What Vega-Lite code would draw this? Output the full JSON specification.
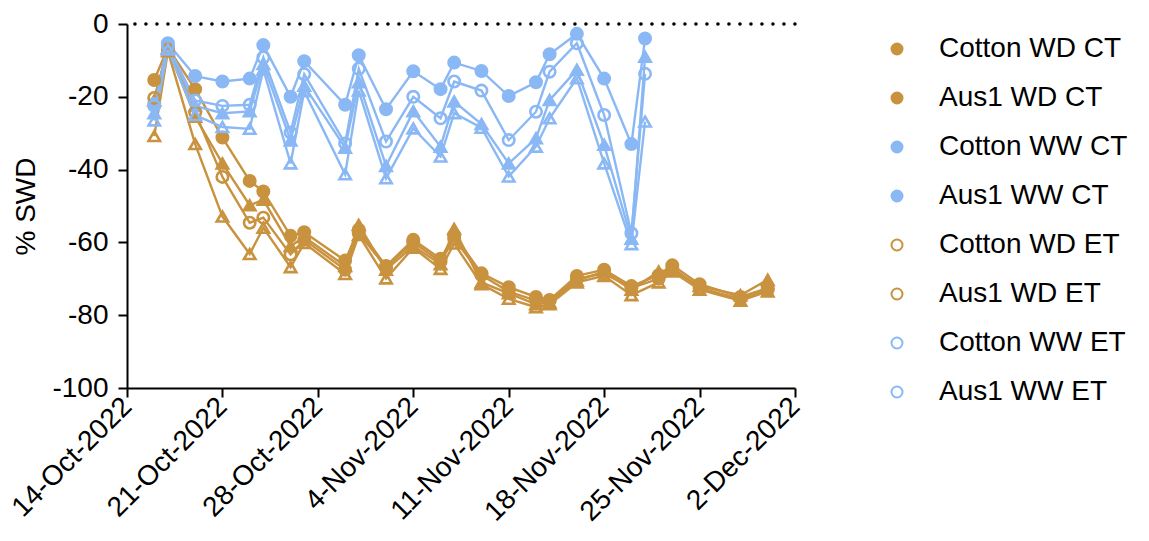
{
  "$schema": "https://vega.github.io/schema/vega-lite/v6.json",
  "width": 668,
  "height": 364,
  "autosize": {"type": "none"},
  "padding": {"left": 127, "top": 24, "right": 354, "bottom": 153},
  "background": "white",
  "config": {
    "view": {"stroke": null},
    "font": "Liberation Sans",
    "axis": {
      "grid": false,
      "domainColor": "#000",
      "domainWidth": 2,
      "tickColor": "#000",
      "tickWidth": 2,
      "tickSize": 9,
      "labelColor": "#000",
      "labelFont": "Liberation Sans",
      "labelFontSize": 27,
      "titleColor": "#000",
      "titleFont": "Liberation Sans",
      "titleFontSize": 28,
      "titleFontWeight": "normal"
    },
    "legend": {
      "orient": "none",
      "legendX": 756,
      "legendY": 11,
      "title": null,
      "padding": 0,
      "labelFont": "Liberation Sans",
      "labelFontSize": 28,
      "labelColor": "#000",
      "labelOffset": 28,
      "labelLimit": 0,
      "symbolSize": 121,
      "symbolStrokeWidth": 2,
      "rowPadding": 21
    }
  },
  "datasets": {
    "swd": [
      {"series": "Cotton WD CT", "date": "2022-10-16", "swd": -15.4},
      {"series": "Cotton WD CT", "date": "2022-10-17", "swd": -6.5},
      {"series": "Cotton WD CT", "date": "2022-10-19", "swd": -17.9},
      {"series": "Cotton WD CT", "date": "2022-10-21", "swd": -31.2},
      {"series": "Cotton WD CT", "date": "2022-10-23", "swd": -43.1},
      {"series": "Cotton WD CT", "date": "2022-10-24", "swd": -46},
      {"series": "Cotton WD CT", "date": "2022-10-26", "swd": -58.2},
      {"series": "Cotton WD CT", "date": "2022-10-27", "swd": -57.2},
      {"series": "Cotton WD CT", "date": "2022-10-30", "swd": -65},
      {"series": "Cotton WD CT", "date": "2022-10-31", "swd": -56.5},
      {"series": "Cotton WD CT", "date": "2022-11-02", "swd": -66.5},
      {"series": "Cotton WD CT", "date": "2022-11-04", "swd": -59.3},
      {"series": "Cotton WD CT", "date": "2022-11-06", "swd": -64.5},
      {"series": "Cotton WD CT", "date": "2022-11-07", "swd": -58},
      {"series": "Cotton WD CT", "date": "2022-11-09", "swd": -68.5},
      {"series": "Cotton WD CT", "date": "2022-11-11", "swd": -72.3},
      {"series": "Cotton WD CT", "date": "2022-11-13", "swd": -75},
      {"series": "Cotton WD CT", "date": "2022-11-14", "swd": -75.8},
      {"series": "Cotton WD CT", "date": "2022-11-16", "swd": -69.2},
      {"series": "Cotton WD CT", "date": "2022-11-18", "swd": -67.5},
      {"series": "Cotton WD CT", "date": "2022-11-20", "swd": -72},
      {"series": "Cotton WD CT", "date": "2022-11-22", "swd": -69},
      {"series": "Cotton WD CT", "date": "2022-11-23", "swd": -66.3},
      {"series": "Cotton WD CT", "date": "2022-11-25", "swd": -71.5},
      {"series": "Cotton WD CT", "date": "2022-11-28", "swd": -75},
      {"series": "Cotton WD CT", "date": "2022-11-30", "swd": -72.5},

      {"series": "Aus1 WD CT", "date": "2022-10-16", "swd": -21},
      {"series": "Aus1 WD CT", "date": "2022-10-17", "swd": -6.7},
      {"series": "Aus1 WD CT", "date": "2022-10-19", "swd": -25.5},
      {"series": "Aus1 WD CT", "date": "2022-10-21", "swd": -38.3},
      {"series": "Aus1 WD CT", "date": "2022-10-23", "swd": -49.8},
      {"series": "Aus1 WD CT", "date": "2022-10-24", "swd": -48.3},
      {"series": "Aus1 WD CT", "date": "2022-10-26", "swd": -61},
      {"series": "Aus1 WD CT", "date": "2022-10-27", "swd": -58.5},
      {"series": "Aus1 WD CT", "date": "2022-10-30", "swd": -66.5},
      {"series": "Aus1 WD CT", "date": "2022-10-31", "swd": -55.2},
      {"series": "Aus1 WD CT", "date": "2022-11-02", "swd": -67.5},
      {"series": "Aus1 WD CT", "date": "2022-11-04", "swd": -61},
      {"series": "Aus1 WD CT", "date": "2022-11-06", "swd": -66},
      {"series": "Aus1 WD CT", "date": "2022-11-07", "swd": -56.3},
      {"series": "Aus1 WD CT", "date": "2022-11-09", "swd": -71},
      {"series": "Aus1 WD CT", "date": "2022-11-11", "swd": -74},
      {"series": "Aus1 WD CT", "date": "2022-11-13", "swd": -77},
      {"series": "Aus1 WD CT", "date": "2022-11-14", "swd": -76.5},
      {"series": "Aus1 WD CT", "date": "2022-11-16", "swd": -70.5},
      {"series": "Aus1 WD CT", "date": "2022-11-18", "swd": -68},
      {"series": "Aus1 WD CT", "date": "2022-11-20", "swd": -73},
      {"series": "Aus1 WD CT", "date": "2022-11-22", "swd": -68},
      {"series": "Aus1 WD CT", "date": "2022-11-23", "swd": -67.5},
      {"series": "Aus1 WD CT", "date": "2022-11-25", "swd": -72},
      {"series": "Aus1 WD CT", "date": "2022-11-28", "swd": -74.5},
      {"series": "Aus1 WD CT", "date": "2022-11-30", "swd": -70.3},

      {"series": "Cotton WW CT", "date": "2022-10-16", "swd": -22},
      {"series": "Cotton WW CT", "date": "2022-10-17", "swd": -5.3},
      {"series": "Cotton WW CT", "date": "2022-10-19", "swd": -14.3},
      {"series": "Cotton WW CT", "date": "2022-10-21", "swd": -15.8},
      {"series": "Cotton WW CT", "date": "2022-10-23", "swd": -15},
      {"series": "Cotton WW CT", "date": "2022-10-24", "swd": -5.8},
      {"series": "Cotton WW CT", "date": "2022-10-26", "swd": -20},
      {"series": "Cotton WW CT", "date": "2022-10-27", "swd": -10.2},
      {"series": "Cotton WW CT", "date": "2022-10-30", "swd": -22.2},
      {"series": "Cotton WW CT", "date": "2022-10-31", "swd": -8.6},
      {"series": "Cotton WW CT", "date": "2022-11-02", "swd": -23.4},
      {"series": "Cotton WW CT", "date": "2022-11-04", "swd": -13},
      {"series": "Cotton WW CT", "date": "2022-11-06", "swd": -17.9},
      {"series": "Cotton WW CT", "date": "2022-11-07", "swd": -10.6},
      {"series": "Cotton WW CT", "date": "2022-11-09", "swd": -12.9},
      {"series": "Cotton WW CT", "date": "2022-11-11", "swd": -19.8},
      {"series": "Cotton WW CT", "date": "2022-11-13", "swd": -16},
      {"series": "Cotton WW CT", "date": "2022-11-14", "swd": -8.3},
      {"series": "Cotton WW CT", "date": "2022-11-16", "swd": -2.7},
      {"series": "Cotton WW CT", "date": "2022-11-18", "swd": -15},
      {"series": "Cotton WW CT", "date": "2022-11-20", "swd": -33},
      {"series": "Cotton WW CT", "date": "2022-11-21", "swd": -4},

      {"series": "Aus1 WW CT", "date": "2022-10-16", "swd": -24.5},
      {"series": "Aus1 WW CT", "date": "2022-10-17", "swd": -6.5},
      {"series": "Aus1 WW CT", "date": "2022-10-19", "swd": -22.5},
      {"series": "Aus1 WW CT", "date": "2022-10-21", "swd": -24.5},
      {"series": "Aus1 WW CT", "date": "2022-10-23", "swd": -24},
      {"series": "Aus1 WW CT", "date": "2022-10-24", "swd": -11},
      {"series": "Aus1 WW CT", "date": "2022-10-26", "swd": -32},
      {"series": "Aus1 WW CT", "date": "2022-10-27", "swd": -17},
      {"series": "Aus1 WW CT", "date": "2022-10-30", "swd": -34},
      {"series": "Aus1 WW CT", "date": "2022-10-31", "swd": -16},
      {"series": "Aus1 WW CT", "date": "2022-11-02", "swd": -39},
      {"series": "Aus1 WW CT", "date": "2022-11-04", "swd": -24},
      {"series": "Aus1 WW CT", "date": "2022-11-06", "swd": -33.7},
      {"series": "Aus1 WW CT", "date": "2022-11-07", "swd": -21.3},
      {"series": "Aus1 WW CT", "date": "2022-11-09", "swd": -27.5},
      {"series": "Aus1 WW CT", "date": "2022-11-11", "swd": -38.3},
      {"series": "Aus1 WW CT", "date": "2022-11-13", "swd": -31.4},
      {"series": "Aus1 WW CT", "date": "2022-11-14", "swd": -20.9},
      {"series": "Aus1 WW CT", "date": "2022-11-16", "swd": -12.6},
      {"series": "Aus1 WW CT", "date": "2022-11-18", "swd": -33.2},
      {"series": "Aus1 WW CT", "date": "2022-11-20", "swd": -59},
      {"series": "Aus1 WW CT", "date": "2022-11-21", "swd": -9},

      {"series": "Cotton WD ET", "date": "2022-10-16", "swd": -20.3},
      {"series": "Cotton WD ET", "date": "2022-10-17", "swd": -7},
      {"series": "Cotton WD ET", "date": "2022-10-19", "swd": -24.3},
      {"series": "Cotton WD ET", "date": "2022-10-21", "swd": -42},
      {"series": "Cotton WD ET", "date": "2022-10-23", "swd": -54.6},
      {"series": "Cotton WD ET", "date": "2022-10-24", "swd": -53.2},
      {"series": "Cotton WD ET", "date": "2022-10-26", "swd": -63.3},
      {"series": "Cotton WD ET", "date": "2022-10-27", "swd": -59.3},
      {"series": "Cotton WD ET", "date": "2022-10-30", "swd": -67.5},
      {"series": "Cotton WD ET", "date": "2022-10-31", "swd": -57.5},
      {"series": "Cotton WD ET", "date": "2022-11-02", "swd": -66.8},
      {"series": "Cotton WD ET", "date": "2022-11-04", "swd": -60},
      {"series": "Cotton WD ET", "date": "2022-11-06", "swd": -65.3},
      {"series": "Cotton WD ET", "date": "2022-11-07", "swd": -59},
      {"series": "Cotton WD ET", "date": "2022-11-09", "swd": -69},
      {"series": "Cotton WD ET", "date": "2022-11-11", "swd": -73.5},
      {"series": "Cotton WD ET", "date": "2022-11-13", "swd": -76},
      {"series": "Cotton WD ET", "date": "2022-11-14", "swd": -76},
      {"series": "Cotton WD ET", "date": "2022-11-16", "swd": -70},
      {"series": "Cotton WD ET", "date": "2022-11-18", "swd": -68.5},
      {"series": "Cotton WD ET", "date": "2022-11-20", "swd": -72.5},
      {"series": "Cotton WD ET", "date": "2022-11-22", "swd": -70},
      {"series": "Cotton WD ET", "date": "2022-11-23", "swd": -67},
      {"series": "Cotton WD ET", "date": "2022-11-25", "swd": -72.5},
      {"series": "Cotton WD ET", "date": "2022-11-28", "swd": -75.5},
      {"series": "Cotton WD ET", "date": "2022-11-30", "swd": -73},

      {"series": "Aus1 WD ET", "date": "2022-10-16", "swd": -30.8},
      {"series": "Aus1 WD ET", "date": "2022-10-17", "swd": -7.5},
      {"series": "Aus1 WD ET", "date": "2022-10-19", "swd": -33},
      {"series": "Aus1 WD ET", "date": "2022-10-21", "swd": -52.9},
      {"series": "Aus1 WD ET", "date": "2022-10-23", "swd": -63.2},
      {"series": "Aus1 WD ET", "date": "2022-10-24", "swd": -56},
      {"series": "Aus1 WD ET", "date": "2022-10-26", "swd": -66.8},
      {"series": "Aus1 WD ET", "date": "2022-10-27", "swd": -60.2},
      {"series": "Aus1 WD ET", "date": "2022-10-30", "swd": -68.7},
      {"series": "Aus1 WD ET", "date": "2022-10-31", "swd": -58},
      {"series": "Aus1 WD ET", "date": "2022-11-02", "swd": -69.9},
      {"series": "Aus1 WD ET", "date": "2022-11-04", "swd": -61.5},
      {"series": "Aus1 WD ET", "date": "2022-11-06", "swd": -67.3},
      {"series": "Aus1 WD ET", "date": "2022-11-07", "swd": -60.3},
      {"series": "Aus1 WD ET", "date": "2022-11-09", "swd": -71.5},
      {"series": "Aus1 WD ET", "date": "2022-11-11", "swd": -75.5},
      {"series": "Aus1 WD ET", "date": "2022-11-13", "swd": -77.8},
      {"series": "Aus1 WD ET", "date": "2022-11-14", "swd": -77},
      {"series": "Aus1 WD ET", "date": "2022-11-16", "swd": -71},
      {"series": "Aus1 WD ET", "date": "2022-11-18", "swd": -69.2},
      {"series": "Aus1 WD ET", "date": "2022-11-20", "swd": -74.5},
      {"series": "Aus1 WD ET", "date": "2022-11-22", "swd": -71},
      {"series": "Aus1 WD ET", "date": "2022-11-23", "swd": -68},
      {"series": "Aus1 WD ET", "date": "2022-11-25", "swd": -73},
      {"series": "Aus1 WD ET", "date": "2022-11-28", "swd": -76},
      {"series": "Aus1 WD ET", "date": "2022-11-30", "swd": -73.5},

      {"series": "Cotton WW ET", "date": "2022-10-16", "swd": -22.5},
      {"series": "Cotton WW ET", "date": "2022-10-17", "swd": -6},
      {"series": "Cotton WW ET", "date": "2022-10-19", "swd": -21},
      {"series": "Cotton WW ET", "date": "2022-10-21", "swd": -22.5},
      {"series": "Cotton WW ET", "date": "2022-10-23", "swd": -22.2},
      {"series": "Cotton WW ET", "date": "2022-10-24", "swd": -9.2},
      {"series": "Cotton WW ET", "date": "2022-10-26", "swd": -29.8},
      {"series": "Cotton WW ET", "date": "2022-10-27", "swd": -13.8},
      {"series": "Cotton WW ET", "date": "2022-10-30", "swd": -32.8},
      {"series": "Cotton WW ET", "date": "2022-10-31", "swd": -12.3},
      {"series": "Cotton WW ET", "date": "2022-11-02", "swd": -32.3},
      {"series": "Cotton WW ET", "date": "2022-11-04", "swd": -20},
      {"series": "Cotton WW ET", "date": "2022-11-06", "swd": -25.9},
      {"series": "Cotton WW ET", "date": "2022-11-07", "swd": -15.8},
      {"series": "Cotton WW ET", "date": "2022-11-09", "swd": -18.3},
      {"series": "Cotton WW ET", "date": "2022-11-11", "swd": -31.9},
      {"series": "Cotton WW ET", "date": "2022-11-13", "swd": -24.1},
      {"series": "Cotton WW ET", "date": "2022-11-14", "swd": -13.1},
      {"series": "Cotton WW ET", "date": "2022-11-16", "swd": -5.3},
      {"series": "Cotton WW ET", "date": "2022-11-18", "swd": -25},
      {"series": "Cotton WW ET", "date": "2022-11-20", "swd": -57.5},
      {"series": "Cotton WW ET", "date": "2022-11-21", "swd": -13.7},

      {"series": "Aus1 WW ET", "date": "2022-10-16", "swd": -26.5},
      {"series": "Aus1 WW ET", "date": "2022-10-17", "swd": -7},
      {"series": "Aus1 WW ET", "date": "2022-10-19", "swd": -25},
      {"series": "Aus1 WW ET", "date": "2022-10-21", "swd": -28.3},
      {"series": "Aus1 WW ET", "date": "2022-10-23", "swd": -28.8},
      {"series": "Aus1 WW ET", "date": "2022-10-24", "swd": -12.5},
      {"series": "Aus1 WW ET", "date": "2022-10-26", "swd": -38.3},
      {"series": "Aus1 WW ET", "date": "2022-10-27", "swd": -18.5},
      {"series": "Aus1 WW ET", "date": "2022-10-30", "swd": -41.3},
      {"series": "Aus1 WW ET", "date": "2022-10-31", "swd": -18.3},
      {"series": "Aus1 WW ET", "date": "2022-11-02", "swd": -42.4},
      {"series": "Aus1 WW ET", "date": "2022-11-04", "swd": -28.7},
      {"series": "Aus1 WW ET", "date": "2022-11-06", "swd": -36.4},
      {"series": "Aus1 WW ET", "date": "2022-11-07", "swd": -24.5},
      {"series": "Aus1 WW ET", "date": "2022-11-09", "swd": -28.5},
      {"series": "Aus1 WW ET", "date": "2022-11-11", "swd": -41.9},
      {"series": "Aus1 WW ET", "date": "2022-11-13", "swd": -33.7},
      {"series": "Aus1 WW ET", "date": "2022-11-14", "swd": -25.9},
      {"series": "Aus1 WW ET", "date": "2022-11-16", "swd": -14.9},
      {"series": "Aus1 WW ET", "date": "2022-11-18", "swd": -38.3},
      {"series": "Aus1 WW ET", "date": "2022-11-20", "swd": -60.5},
      {"series": "Aus1 WW ET", "date": "2022-11-21", "swd": -26.8}
    ]
  },
  "layer": [
    {
      "data": {"values": [{"ref": 0}]},
      "mark": {"type": "rule", "color": "#000", "strokeWidth": 3.5, "strokeCap": "round", "strokeDash": [0.1, 10.9]},
      "encoding": {"y": {"field": "ref", "type": "quantitative"}}
    },
    {
      "data": {"name": "swd"},
      "mark": {"type": "line", "strokeWidth": 2.4},
      "encoding": {
        "x": {"field": "date", "type": "temporal"},
        "y": {"field": "swd", "type": "quantitative"},
        "color": {
          "field": "series",
          "type": "nominal",
          "legend": null,
          "scale": {
            "domain": ["Aus1 WD CT", "Aus1 WD ET", "Aus1 WW CT", "Aus1 WW ET", "Cotton WD CT", "Cotton WD ET", "Cotton WW CT", "Cotton WW ET"],
            "range": ["#C8923F", "#C8923F", "#8AB8F5", "#8AB8F5", "#C8923F", "#C8923F", "#8AB8F5", "#8AB8F5"]
          }
        },
        "detail": {"field": "series"}
      }
    },
    {
      "data": {"name": "swd"},
      "mark": {"type": "point", "size": 130, "strokeWidth": 2.6, "opacity": 1},
      "encoding": {
        "x": {
          "field": "date",
          "type": "temporal",
          "title": null,
          "scale": {
            "type": "utc",
            "domain": [{"year": 2022, "month": 10, "date": 14, "utc": true}, {"year": 2022, "month": 12, "date": 2, "utc": true}]
          },
          "axis": {
            "values": [
              {"year": 2022, "month": 10, "date": 14, "utc": true},
              {"year": 2022, "month": 10, "date": 21, "utc": true},
              {"year": 2022, "month": 10, "date": 28, "utc": true},
              {"year": 2022, "month": 11, "date": 4, "utc": true},
              {"year": 2022, "month": 11, "date": 11, "utc": true},
              {"year": 2022, "month": 11, "date": 18, "utc": true},
              {"year": 2022, "month": 11, "date": 25, "utc": true},
              {"year": 2022, "month": 12, "date": 2, "utc": true}
            ],
            "format": "%-d-%b-%Y",
            "labelAngle": -45,
            "labelAlign": "right",
            "labelBaseline": "middle",
            "labelPadding": 5,
            "labelFontSize": 28,
            "labelOverlap": false,
            "labelBound": false,
            "labelFlush": false
          }
        },
        "y": {
          "field": "swd",
          "type": "quantitative",
          "title": "% SWD",
          "scale": {"domain": [-100, 0], "nice": false, "zero": false},
          "axis": {
            "values": [-100, -80, -60, -40, -20, 0],
            "labelExpr": "datum.value < 0 ? '-' + abs(datum.value) : '' + datum.value",
            "labelFontSize": 28,
            "labelPadding": 10,
            "titlePadding": 11
          }
        },
        "stroke": {
          "field": "series",
          "type": "nominal",
          "scale": {
            "domain": ["Cotton WD CT", "Aus1 WD CT", "Cotton WW CT", "Aus1 WW CT", "Cotton WD ET", "Aus1 WD ET", "Cotton WW ET", "Aus1 WW ET"],
            "range": ["#C8923F", "#C8923F", "#8AB8F5", "#8AB8F5", "#C8923F", "#C8923F", "#8AB8F5", "#8AB8F5"]
          },
          "legend": {
            "encode": {
              "symbols": {
                "size": {"value": 121},
                "strokeWidth": {"value": 2},
                "shape": {"value": {"expr": "indexof(datum.value, 'Cotton') === 0 ? 'M-3.6,0H-1M1,0H3.6M1,0A1,1 0 1 1 -1,0A1,1 0 1 1 1,0Z' : 'M-3.6,0.35H3.6M0,-1.05L1.15,0.9H-1.15Z'"}}
              }
            }
          }
        },
        "fill": {
          "field": "series",
          "type": "nominal",
          "scale": {
            "domain": ["Cotton WD CT", "Aus1 WD CT", "Cotton WW CT", "Aus1 WW CT", "Cotton WD ET", "Aus1 WD ET", "Cotton WW ET", "Aus1 WW ET"],
            "range": ["#C8923F", "#C8923F", "#8AB8F5", "#8AB8F5", "transparent", "transparent", "transparent", "transparent"]
          },
          "legend": {
            "encode": {
              "symbols": {
                "size": {"value": 121},
                "strokeWidth": {"value": 2},
                "shape": {"value": {"expr": "indexof(datum.value, 'Cotton') === 0 ? 'M-3.6,0H-1M1,0H3.6M1,0A1,1 0 1 1 -1,0A1,1 0 1 1 1,0Z' : 'M-3.6,0.35H3.6M0,-1.05L1.15,0.9H-1.15Z'"}}
              }
            }
          }
        },
        "shape": {
          "field": "series",
          "type": "nominal",
          "legend": null,
          "scale": {
            "domain": ["Aus1 WD CT", "Aus1 WD ET", "Aus1 WW CT", "Aus1 WW ET", "Cotton WD CT", "Cotton WD ET", "Cotton WW CT", "Cotton WW ET"],
            "range": ["triangle-up", "triangle-up", "triangle-up", "triangle-up", "circle", "circle", "circle", "circle"]
          }
        }
      }
    }
  ]
}
